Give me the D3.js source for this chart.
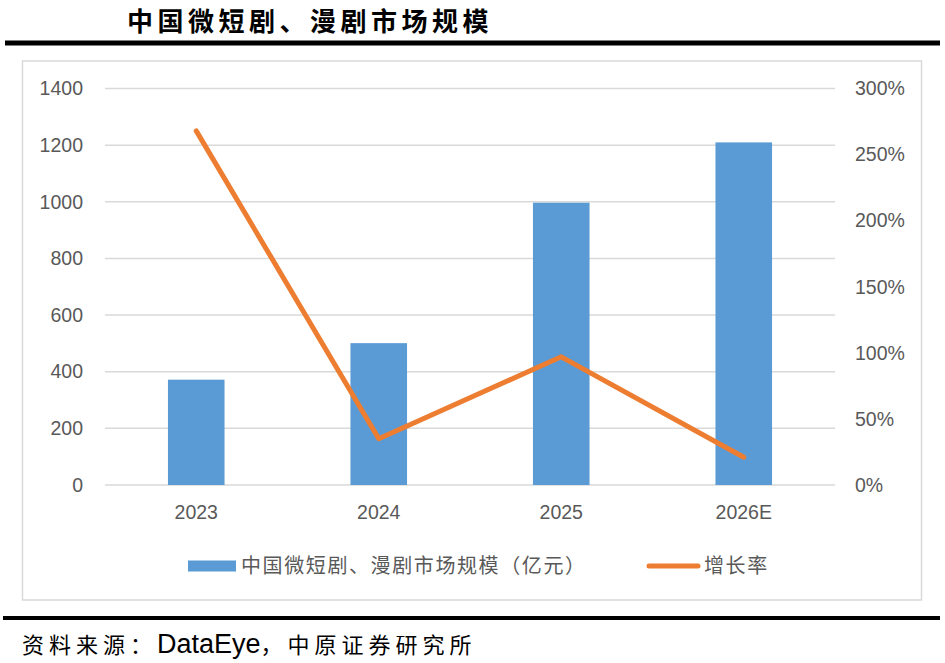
<!DOCTYPE html>
<html>
<head>
<meta charset="utf-8">
<script src="https://cdn.jsdelivr.net/npm/d3@7"></script>
<style>
  body { margin: 0; background: #fff; }
  svg { display: block; }
</style>
</head>
<body>
<svg></svg>
<script>
// chart data
const years = ["2023", "2024", "2025", "2026E"];
const marketSize = [372, 501, 997, 1210];     // 亿元
const growthRate = [2.68, 0.35, 0.97, 0.21];  // 增长率
const leftTicks = [0, 200, 400, 600, 800, 1000, 1200, 1400];
const rightTicks = [0, 0.5, 1, 1.5, 2, 2.5, 3];

const size = { w: 945, h: 663 };
const plot = { l: 105, r: 835, t: 88.6, b: 485 };
const axisFont = "'Liberation Sans', Arial, sans-serif";
const cjkFont = "'Noto Sans CJK SC', sans-serif";
const grey = "#595959";

const svg = d3.select("svg").attr("width", size.w).attr("height", size.h);

// title + rules
svg.append("text")
  .attr("x", 127).attr("y", 31)
  .attr("font-family", cjkFont).attr("font-weight", 700)
  .attr("font-size", 26).attr("letter-spacing", 4.5)
  .attr("fill", "#000")
  .text("中国微短剧、漫剧市场规模");

svg.append("line").attr("x1", 5).attr("x2", 940).attr("y1", 43).attr("y2", 43)
  .attr("stroke", "#000").attr("stroke-width", 5);

svg.append("rect")
  .attr("x", 22.5).attr("y", 61).attr("width", 899).attr("height", 539)
  .attr("fill", "none").attr("stroke", "#d9d9d9").attr("stroke-width", 1.5);

// scales
const x = d3.scaleBand().domain(years).range([plot.l, plot.r])
  .paddingInner(0.69).paddingOuter(0.345);
const yL = d3.scaleLinear().domain([0, 1400]).range([plot.b, plot.t]);
const yR = d3.scaleLinear().domain([0, 3]).range([plot.b, plot.t]);

// gridlines
svg.append("g").selectAll("line").data(leftTicks).join("line")
  .attr("x1", plot.l).attr("x2", plot.r)
  .attr("y1", d => yL(d)).attr("y2", d => yL(d))
  .attr("stroke", "#d9d9d9").attr("stroke-width", 1.5);

// left axis
const leftAxis = svg.append("g")
  .attr("transform", `translate(${plot.l},0)`)
  .call(d3.axisLeft(yL).tickValues(leftTicks).tickSize(0).tickPadding(22)
    .tickFormat(d3.format("d")));
// right axis
const rightAxis = svg.append("g")
  .attr("transform", `translate(${plot.r},0)`)
  .call(d3.axisRight(yR).tickValues(rightTicks).tickSize(0).tickPadding(20)
    .tickFormat(d3.format(".0%")));
// bottom axis
const bottomAxis = svg.append("g")
  .attr("transform", `translate(0,${plot.b})`)
  .call(d3.axisBottom(x).tickSize(0).tickPadding(20));

[leftAxis, rightAxis, bottomAxis].forEach(g => {
  g.select(".domain").remove();
  g.selectAll("text")
    .attr("font-family", axisFont).attr("font-size", 19.5).attr("fill", grey);
});

// bars
svg.append("g").selectAll("rect").data(years).join("rect")
  .attr("x", d => x(d))
  .attr("width", x.bandwidth())
  .attr("y", (d, i) => yL(marketSize[i]))
  .attr("height", (d, i) => yL(0) - yL(marketSize[i]))
  .attr("fill", "#5b9bd5");

// growth line
const line = d3.line()
  .x((d, i) => x(years[i]) + x.bandwidth() / 2)
  .y(d => yR(d));
svg.append("path").datum(growthRate)
  .attr("d", line)
  .attr("fill", "none").attr("stroke", "#ed7d31")
  .attr("stroke-width", 5).attr("stroke-linecap", "round")
  .attr("stroke-linejoin", "round");

// legend
const legend = svg.append("g").attr("transform", "translate(0,566)");
legend.append("rect").attr("x", 188).attr("y", -5.5).attr("width", 48).attr("height", 11)
  .attr("fill", "#5b9bd5");
legend.append("text").attr("x", 241).attr("y", 7)
  .attr("font-family", cjkFont).attr("font-size", 20).attr("letter-spacing", 1.6)
  .attr("fill", grey).text("中国微短剧、漫剧市场规模（亿元）");
legend.append("line").attr("x1", 649).attr("x2", 698).attr("y1", 0).attr("y2", 0)
  .attr("stroke", "#ed7d31").attr("stroke-width", 5).attr("stroke-linecap", "round");
legend.append("text").attr("x", 704).attr("y", 7)
  .attr("font-family", cjkFont).attr("font-size", 20).attr("letter-spacing", 1.6)
  .attr("fill", grey).text("增长率");

// source footer
svg.append("line").attr("x1", 3).attr("x2", 940).attr("y1", 618).attr("y2", 618)
  .attr("stroke", "#000").attr("stroke-width", 4);

const foot = svg.append("text").attr("x", 22).attr("y", 653).attr("fill", "#000");
foot.append("tspan").attr("font-family", cjkFont).attr("font-size", 22)
  .attr("letter-spacing", 5).text("资料来源：");
foot.append("tspan").attr("font-family", axisFont).attr("font-size", 27)
  .text("DataEye");
foot.append("tspan").attr("font-family", cjkFont).attr("font-size", 22)
  .attr("letter-spacing", 5).text("，中原证券研究所");
</script>
</body>
</html>
